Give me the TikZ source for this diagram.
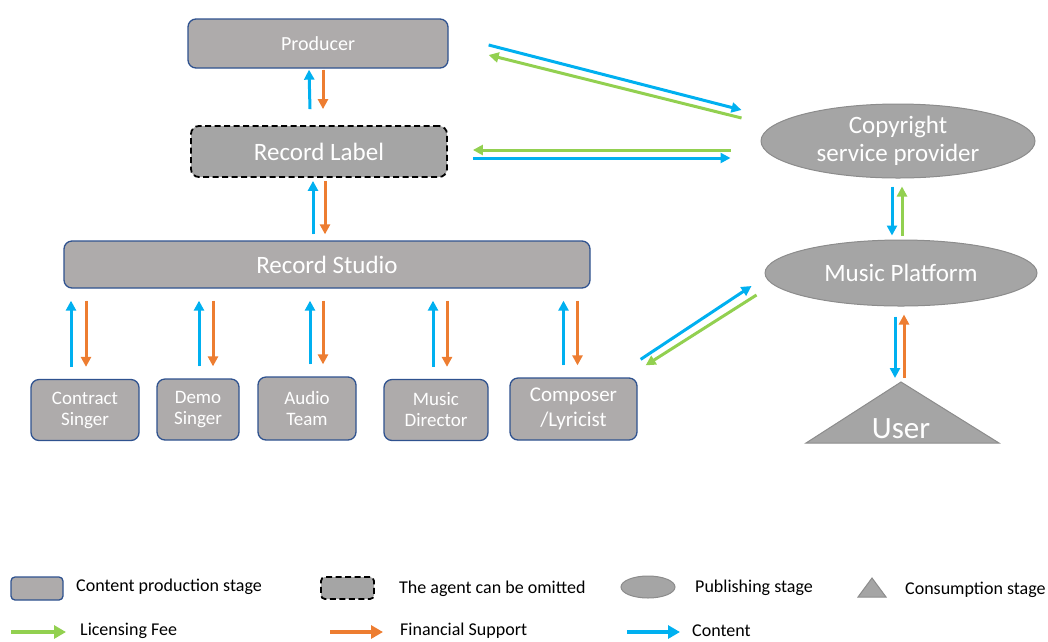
\documentclass[tikz,border=0pt]{standalone}
\usepackage{fontspec}
\setmainfont{Carlito}
\usetikzlibrary{shapes.geometric,arrows.meta,calc,positioning}
\definecolor{boxgray}{HTML}{AEABAB}
\definecolor{boxline}{HTML}{2F528F}
\definecolor{agentgray}{HTML}{A5A5A5}
\definecolor{publine}{HTML}{8C8C8C}
\definecolor{cblue}{HTML}{00B0F0}
\definecolor{forange}{HTML}{ED7D31}
\definecolor{lgreen}{HTML}{92D050}

\begin{document}
\begin{tikzpicture}[x=1pt,y=-1pt,
  stage/.style={rectangle,rounded corners=8,draw=boxline,line width=1.3,fill=boxgray,text=white,inner sep=0,align=center},
  agent/.style={rectangle,rounded corners=8,draw=black,dash pattern=on 6pt off 3.5pt,line width=1.8,fill=agentgray,text=white,inner sep=0},
  publish/.style={ellipse,draw=publine,line width=1,fill=agentgray,text=white,inner sep=0,align=center},
  consume/.style={draw=publine,line width=1,fill=agentgray},
  flow/.style={line width=3,-{Triangle[length=10,width=10]}},
  content/.style={flow,draw=cblue,fill=cblue},
  finance/.style={flow,draw=forange,fill=forange},
  licence/.style={flow,draw=lgreen,fill=lgreen},
  legflow/.style={line width=4,-{Triangle[length=12,width=13]}},
  legtext/.style={anchor=west,font=\fontsize{18}{20}\selectfont,inner sep=0}]
\useasboundingbox (0,0) rectangle (1048,641);

% production stage
\node[stage,minimum width=260,minimum height=49,font=\fontsize{20}{22}\selectfont] (producer) at (318,43.5) {Producer};
\node[agent,minimum width=256,minimum height=51,font=\fontsize{25}{27}\selectfont] (label) at (319,151.5) {Record Label};
\node[stage,minimum width=526,minimum height=47,font=\fontsize{25}{27}\selectfont] (studio) at (327,264.5) {Record Studio};
\begin{scope}[every node/.style={stage,minimum height=61,font=\fontsize{19}{21}\selectfont}]
\node[minimum width=108] (contract) at (85,410) {Contract\\Singer};
\node[minimum width=82] (demo) at (198,409.5) {Demo\\Singer};
\node[minimum width=98,minimum height=63] (audio) at (307,408.5) {Audio\\Team};
\node[minimum width=104] (director) at (436,410) {Music\\Director};
\node[minimum width=127,minimum height=62,font=\fontsize{21}{25}\selectfont] (composer) at (573.5,409) {Composer\\/Lyricist};
\end{scope}

% publishing and consumption
\node[publish,minimum width=274,minimum height=74,font=\fontsize{25}{28}\selectfont] (copyright) at (898,141) {Copyright\\service provider};
\node[publish,minimum width=272,minimum height=66,font=\fontsize{25}{27}\selectfont] (platform) at (901,273) {Music Platform};
\coordinate (usertop) at (901,382);
\draw[consume] (806,443) -- (usertop) -- (999,443) -- cycle;
\node[text=white,inner sep=0,font=\fontsize{31}{33}\selectfont] (user) at (901,429) {User};

% flows
\draw[content] ($(label.north)+(-9,-16)$) -- ($(producer.south)+(-9,1)$);
\draw[finance] ($(producer.south)+(5,1)$) -- ($(label.north)+(4,-16)$);
\draw[content] ($(studio.north)+(-14,-6)$) -- ($(label.south)+(-6,3)$);
\draw[finance] ($(label.south)+(6,3)$) -- ($(studio.north)+(-2,-6)$);
\foreach \b/\db/\do in {contract/-14/1,demo/1/15,audio/3/16,director/-3/11,composer/-10/4}{
  \draw[content] ($(\b.north)+(\db,-12)$) -- ($(studio.south -| \b.north)+(\db,12)$);
  \draw[finance] ($(studio.south -| \b.north)+(\do,12)$) -- ($(\b.north)+(\do,-12)$);
}
\draw[content] ($(producer.east)+(40,1.5)$) -- ($(copyright.west)+(-19,-31)$);
\draw[licence] ($(copyright.west)+(-19,-23)$) -- ($(producer.east)+(40,11.5)$);
\draw[licence] ($(copyright.west)+(-30,9)$) -- ($(label.east)+(25,-1.5)$);
\draw[content] ($(label.east)+(25,6.5)$) -- ($(copyright.west)+(-30,17)$);
\draw[content] ($(composer.north east)+(3,-18)$) -- ($(platform.west)+(-13,13)$);
\draw[licence] ($(platform.west)+(-8,22)$) -- ($(composer.north east)+(8,-12)$);
\draw[content] ($(copyright.south)+(-6,8)$) -- ($(platform.north)+(-9,-4)$);
\draw[licence] ($(platform.north)+(1,-4)$) -- ($(copyright.south)+(4,8)$);
\draw[content] ($(platform.south)+(-6,10)$) -- ($(usertop)+(-6,-4)$);
\draw[finance] ($(usertop)+(3,-4)$) -- ($(platform.south)+(3,8)$);

% legend
\node[stage,minimum width=52,minimum height=23,rounded corners=4] (legstage) at (37,588.5) {};
\node[legtext] (legstagetxt) at (76,587) {Content production stage};
\node[agent,minimum width=53,minimum height=22,rounded corners=4] (legagent) at (347.5,588) {};
\node[legtext] (legagenttxt) at (399,589) {The agent can be omitted};
\node[publish,minimum width=54,minimum height=22] (legpub) at (648,587) {};
\node[legtext] (legpubtxt) at (695,588) {Publishing stage};
\draw[consume] (858,597) -- (872,578) -- (886,597) -- cycle;
\node[legtext] (legusetxt) at (905,590) {Consumption stage};
\node[legtext] (legfee) at (80,631) {Licensing Fee};
\draw[legflow,draw=lgreen,fill=lgreen] ($(legfee.west)+(-69,1)$) -- ($(legfee.west)+(-14,1)$);
\node[legtext] (legfin) at (400,631) {Financial Support};
\draw[legflow,draw=forange,fill=forange] ($(legfin.west)+(-70,1)$) -- ($(legfin.west)+(-17,1)$);
\node[legtext] (legcon) at (692,631) {Content};
\draw[legflow,draw=cblue,fill=cblue] ($(legcon.west)+(-65,1)$) -- ($(legcon.west)+(-12,1)$);
\end{tikzpicture}
\end{document}
